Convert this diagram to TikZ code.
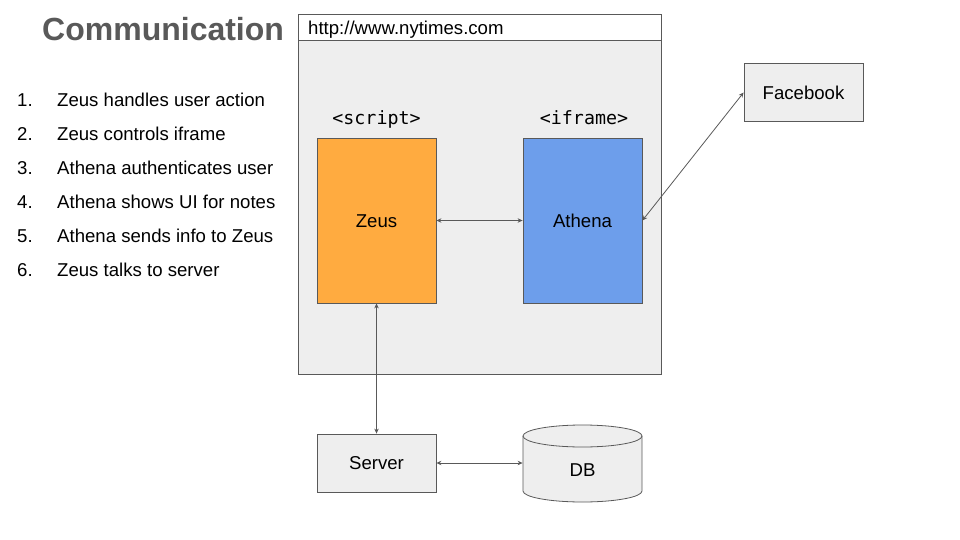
\documentclass[tikz,border=0pt]{standalone}
\usepackage{fontspec}
\setmainfont{Liberation Sans}
\setmonofont{DejaVu Sans Mono}
\usepackage{tikz}
\usetikzlibrary{arrows.meta}
\usetikzlibrary{positioning}
\definecolor{ink}{HTML}{595959}
\definecolor{pane}{HTML}{EEEEEE}
\definecolor{zeusorange}{HTML}{FFAB40}
\definecolor{athenablue}{HTML}{6D9EEB}
\tikzset{box/.style = {draw=ink, line width=0.8pt, minimum width=119pt,
                       font=\fontsize{18.6}{22}\selectfont, inner sep=0pt,
                       text height=13.3pt, text depth=0pt}}
\tikzset{link/.style = {draw=ink, line width=0.8pt,
                        {Stealth[length=5pt,width=4.5pt]}-{Stealth[length=5pt,width=4.5pt]}}}
\tikzset{txt/.style = {anchor=west, inner sep=0pt, font=\fontsize{18.6}{22}\selectfont,
                       text height=13.3pt, text depth=0pt}}
\tikzset{tag/.style = {inner sep=0pt, font=\fontsize{18.3}{22}\selectfont\ttfamily,
                       text height=13pt, text depth=0pt}}

\begin{document}
\begin{tikzpicture}[x=1pt, y=-1pt]
      \useasboundingbox (0, 0) rectangle (960, 540);

      \node [anchor=west, inner sep=0pt, text=ink, text height=23pt, text depth=0pt,
             font=\fontsize{32}{36}\selectfont\bfseries] (title) at (42, 29) {Communication};

      \foreach \i/\t in {1/Zeus handles user action, 2/Zeus controls iframe,
                         3/Athena authenticates user, 4/Athena shows UI for notes,
                         5/Athena sends info to Zeus, 6/Zeus talks to server} {
        \node [txt] (num\i) at (17, 100 + 34*\i - 34) {\i.};
        \node [txt] (item\i) at (57, 100 + 34*\i - 34) {\t};
      }

      % browser window
      \draw [draw=ink, line width=0.8pt, fill=pane] (298, 14) rectangle (661, 374);
      \draw [draw=ink, line width=0.8pt, fill=white] (298, 14) rectangle (661, 40);
      \node [txt] (url) at (308, 27.5) {http://www.nytimes.com};

      \node [box, fill=zeusorange, minimum height=165pt] (zeus) at (376.5, 220.5) {Zeus};
      \node [box, fill=athenablue, minimum height=165pt] (athena) at (582.5, 220.5) {Athena};
      \node [tag] (script) at (376.5, 118) {<script>};
      \node [tag] (iframe) at (584, 118) {<iframe>};

      \node [box, fill=pane, minimum height=58pt] (facebook) at (803.5, 92.5) {Facebook};
      \node [box, fill=pane, minimum height=58pt] (server) at (376.5, 463) {Server};

      % database
      \draw [draw=ink, line width=0.8pt, fill=pane] (523, 436) -- (523, 491)
            arc (180:0:59.5 and 11) -- (642, 436) arc (0:-180:59.5 and 11) -- cycle;
      \draw [draw=ink, line width=0.8pt] (523, 436) arc (180:0:59.5 and 11);
      \node [box, draw=none, minimum height=40pt] (db) at (582.5, 470) {DB};

      \draw [link] (zeus) -- (athena);
      \draw [link] (zeus) -- (server);
      \draw [link] (server.east) -- (server.east -| db.west);
      \draw [link] (athena.east) -- (facebook.west);
    \end{tikzpicture}
\end{document}
